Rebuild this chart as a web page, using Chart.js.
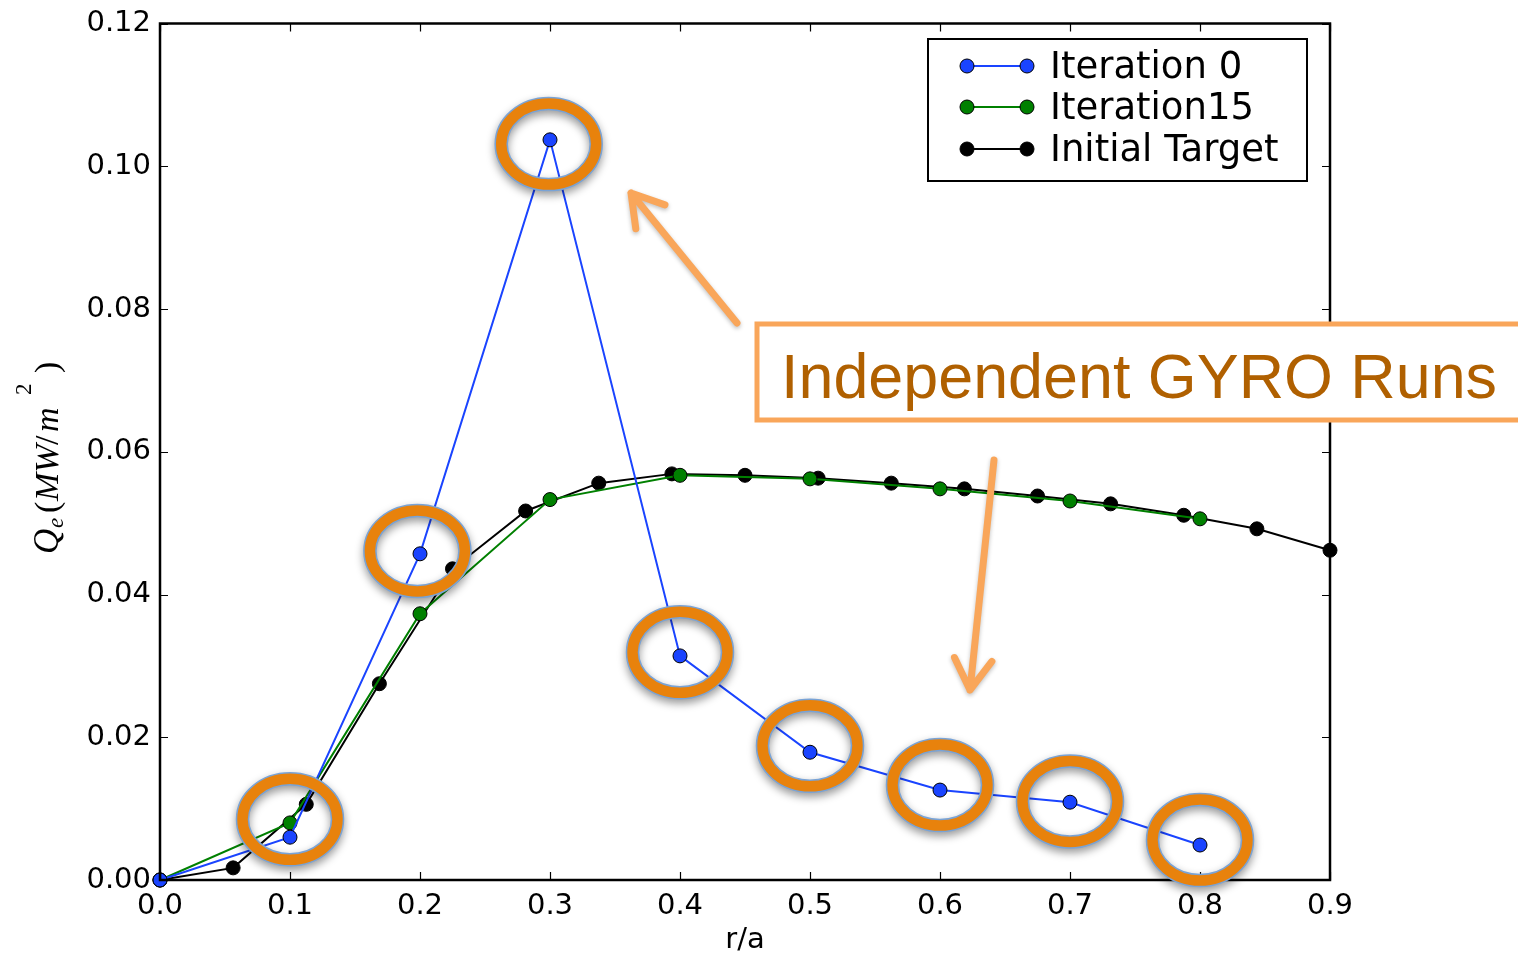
<!DOCTYPE html>
<html>
<head>
<meta charset="utf-8">
<script src="https://cdn.jsdelivr.net/npm/chart.js@4.4.1/dist/chart.umd.min.js"></script>
<style>
  html, body { margin: 0; padding: 0; background: #fff; }
  #wrap { width: 1518px; height: 957px; }
</style>
</head>
<body>
<div id="wrap"><canvas id="qeChart" width="1518" height="957"></canvas></div>
<script>
// r/a positions
var rRuns = [0.0, 0.1, 0.2, 0.3, 0.4, 0.5, 0.6, 0.7, 0.8];
var rTarget = [0.0, 0.05625, 0.1125, 0.16875, 0.225, 0.28125, 0.3375, 0.39375, 0.45,
               0.50625, 0.5625, 0.61875, 0.675, 0.73125, 0.7875, 0.84375, 0.9];

// Q_e values (MW/m^2)
var iter0 = [0.0, 0.0060, 0.0457, 0.1037, 0.0314, 0.0179, 0.0126, 0.0109, 0.0049];
var iter15 = [0.0, 0.0080, 0.0373, 0.0533, 0.0567, 0.0562, 0.0548, 0.0531, 0.0506];
var target = [0.0, 0.0017, 0.0106, 0.0275, 0.0436, 0.0517, 0.0556, 0.0569, 0.0567,
              0.0563, 0.0556, 0.0548, 0.0538, 0.0527, 0.0511, 0.0492, 0.0462];

var seriesNames = ['Iteration 0', 'Iteration15', 'Initial Target'];
var xTicks = [0.0, 0.1, 0.2, 0.3, 0.4, 0.5, 0.6, 0.7, 0.8, 0.9];
var yTicks = [0.00, 0.02, 0.04, 0.06, 0.08, 0.10, 0.12];

// the circled GYRO runs (ellipse centres, data units)
var circledR = [0.1, 0.198, 0.299, 0.4, 0.5, 0.6, 0.7, 0.8];
var circledQ = [0.0085, 0.0461, 0.1031, 0.0319, 0.0188, 0.0133, 0.0110, 0.0056];

var BLUE = '#1a44ff';
var GREEN = '#008000';
var ORANGE = '#e8820c';
var LIGHT_ORANGE = '#f9a65a';

function pts(xs, ys) {
    return xs.map(function (x, i) { return { x: x, y: ys[i] }; });
}

function ellipseRing(ctx, cx, cy) {
    ctx.save();
    ctx.shadowColor = 'rgba(0,0,0,0.4)';
    ctx.shadowBlur = 9;
    ctx.shadowOffsetY = 4;
    ctx.beginPath();
    ctx.ellipse(cx, cy, 47.5, 40.5, 0, 0, Math.PI * 2);
    ctx.lineWidth = 13.5;
    ctx.strokeStyle = '#79a3d6';
    ctx.stroke();
    ctx.restore();
    ctx.beginPath();
    ctx.ellipse(cx, cy, 47.5, 40.5, 0, 0, Math.PI * 2);
    ctx.lineWidth = 10.5;
    ctx.strokeStyle = ORANGE;
    ctx.stroke();
}

function arrow(ctx, x1, y1, x2, y2) {
    ctx.save();
    ctx.shadowColor = 'rgba(0,0,0,0.25)';
    ctx.shadowBlur = 4;
    ctx.shadowOffsetY = 2;
    ctx.strokeStyle = LIGHT_ORANGE;
    ctx.lineWidth = 7;
    ctx.lineCap = 'round';
    ctx.lineJoin = 'round';
    var a = Math.atan2(y2 - y1, x2 - x1);
    var h = 36, spread = 0.55;
    ctx.beginPath();
    ctx.moveTo(x1, y1);
    ctx.lineTo(x2, y2);
    ctx.moveTo(x2 - h * Math.cos(a - spread), y2 - h * Math.sin(a - spread));
    ctx.lineTo(x2, y2);
    ctx.lineTo(x2 - h * Math.cos(a + spread), y2 - h * Math.sin(a + spread));
    ctx.stroke();
    ctx.restore();
}

var decorations = {
    id: 'decorations',
    afterDatasetsDraw: function (chart) {
        var ctx = chart.ctx;
        var xs = chart.scales.x, ys = chart.scales.y;
        var a = chart.chartArea;
        ctx.save();

        // inward ticks on all four sides
        ctx.strokeStyle = '#000';
        ctx.lineWidth = 1.2;
        ctx.beginPath();
        xTicks.forEach(function (t) {
            var px = Math.round(xs.getPixelForValue(t)) + 0.5;
            ctx.moveTo(px, a.bottom); ctx.lineTo(px, a.bottom - 8);
            ctx.moveTo(px, a.top); ctx.lineTo(px, a.top + 8);
        });
        yTicks.forEach(function (t) {
            var py = Math.round(ys.getPixelForValue(t)) + 0.5;
            ctx.moveTo(a.left, py); ctx.lineTo(a.left + 8, py);
            ctx.moveTo(a.right, py); ctx.lineTo(a.right - 8, py);
        });
        ctx.stroke();

        // frame
        ctx.lineWidth = 2.5;
        ctx.strokeRect(a.left, a.top, a.right - a.left, a.bottom - a.top);

        // y axis title, Q_e (MW/m^2), rotated; [font, text, along, baseline shift]
        ctx.save();
        ctx.translate(58, 554);
        ctx.rotate(-Math.PI / 2);
        ctx.fillStyle = '#000';
        ctx.textBaseline = 'alphabetic';
        ctx.textAlign = 'left';
        var parts = [
            ['italic 35px "Liberation Serif"', 'Q', 0, 0],
            ['italic 23px "Liberation Serif"', 'e', 26, 5],
            ['34px "Liberation Serif"', '(', 41, 0],
            ['italic 34px "Liberation Serif"', 'MW', 53, 0],
            ['34px "Liberation Serif"', '/', 109, 0],
            ['italic 34px "Liberation Serif"', 'm', 122, 0],
            ['23px "Liberation Serif"', '2', 159, -27],
            ['34px "Liberation Serif"', ')', 181, 0]
        ];
        parts.forEach(function (p) {
            ctx.font = p[0];
            ctx.fillText(p[1], p[2], p[3]);
        });
        ctx.restore();

        // rings round the independent runs
        circledR.forEach(function (r, i) {
            ellipseRing(ctx, xs.getPixelForValue(r), ys.getPixelForValue(circledQ[i]));
        });

        // legend
        var lx = 928, ly = 39, lw = 379, lh = 142;
        ctx.fillStyle = '#fff';
        ctx.fillRect(lx, ly, lw, lh);
        ctx.strokeStyle = '#000';
        ctx.lineWidth = 2;
        ctx.strokeRect(lx, ly, lw, lh);
        var cols = [BLUE, GREEN, '#000'];
        var rows = [66, 107, 149];
        ctx.font = '37px "DejaVu Sans"';
        ctx.textBaseline = 'middle';
        ctx.textAlign = 'left';
        seriesNames.forEach(function (name, i) {
            var y = rows[i];
            ctx.strokeStyle = cols[i];
            ctx.lineWidth = 2;
            ctx.beginPath();
            ctx.moveTo(967, y); ctx.lineTo(1027, y);
            ctx.stroke();
            [967, 1027].forEach(function (mx) {
                ctx.beginPath();
                ctx.arc(mx, y, 7, 0, Math.PI * 2);
                ctx.fillStyle = cols[i];
                ctx.fill();
                ctx.strokeStyle = '#000';
                ctx.lineWidth = 1;
                ctx.stroke();
            });
            ctx.fillStyle = '#000';
            ctx.fillText(name, 1050, y + 2);
        });

        // arrows
        arrow(ctx, 737, 323, 631, 193);
        arrow(ctx, 994, 460, 970, 690);

        // text box
        ctx.fillStyle = '#fff';
        ctx.fillRect(757, 324, 800, 96);
        ctx.strokeStyle = LIGHT_ORANGE;
        ctx.lineWidth = 5;
        ctx.strokeRect(757, 324, 800, 96);
        ctx.fillStyle = '#b06000';
        ctx.font = '63px "Liberation Sans"';
        ctx.textBaseline = 'alphabetic';
        var label = 'Independent GYRO Runs';
        var w = ctx.measureText(label).width;
        ctx.save();
        ctx.translate(781, 398);
        ctx.scale(716 / w, 1);
        ctx.fillText(label, 0, 0);
        ctx.restore();

        ctx.restore();
    }
};

var ctx = document.getElementById('qeChart').getContext('2d');
var qeChart = new Chart(ctx, {
    type: 'line',
    data: {
        datasets: [{
                label: seriesNames[0],
                data: pts(rRuns, iter0),
                borderColor: BLUE,
                backgroundColor: BLUE,
                pointBackgroundColor: BLUE,
                pointBorderColor: '#000',
                pointBorderWidth: 1,
                pointRadius: 7,
                borderWidth: 2,
                tension: 0
            }, {
                label: seriesNames[1],
                data: pts(rRuns, iter15),
                borderColor: GREEN,
                backgroundColor: GREEN,
                pointBackgroundColor: GREEN,
                pointBorderColor: '#000',
                pointBorderWidth: 1,
                pointRadius: 7,
                borderWidth: 2,
                tension: 0
            }, {
                label: seriesNames[2],
                data: pts(rTarget, target),
                borderColor: '#000',
                backgroundColor: '#000',
                pointBackgroundColor: '#000',
                pointBorderColor: '#000',
                pointBorderWidth: 1,
                pointRadius: 7,
                borderWidth: 2,
                tension: 0
            }]
    },
    options: {
        responsive: false,
        animation: false,
        clip: false,
        layout: {
            padding: { left: 0, top: 21, right: 188, bottom: 0 }
        },
        scales: {
            x: {
                type: 'linear',
                min: 0,
                max: 0.9,
                afterBuildTicks: function (s) { s.ticks = xTicks.map(function (v) { return { value: v }; }); },
                afterFit: function (s) { s.height = 77; },
                grid: { display: false, drawTicks: false },
                border: { display: false },
                ticks: {
                    color: '#000',
                    padding: 9,
                    maxRotation: 0,
                    font: { family: 'DejaVu Sans', size: 29 },
                    callback: function (v) { return v.toFixed(1); }
                },
                title: {
                    display: true,
                    text: 'r/a',
                    color: '#000',
                    padding: { top: 0, bottom: 2 },
                    font: { family: 'DejaVu Sans', size: 29, lineHeight: 1 }
                }
            },
            y: {
                min: 0,
                max: 0.12,
                afterBuildTicks: function (s) { s.ticks = yTicks.map(function (v) { return { value: v }; }); },
                afterFit: function (s) { s.width = 160; },
                grid: { display: false, drawTicks: false },
                border: { display: false },
                ticks: {
                    color: '#000',
                    padding: 9,
                    font: { family: 'DejaVu Sans', size: 29, lineHeight: 1 },
                    callback: function (v) { return v.toFixed(2); }
                }
            }
        },
        plugins: {
            legend: { display: false },
            tooltip: { enabled: false }
        }
    },
    plugins: [decorations]
});
</script>
</body>
</html>
